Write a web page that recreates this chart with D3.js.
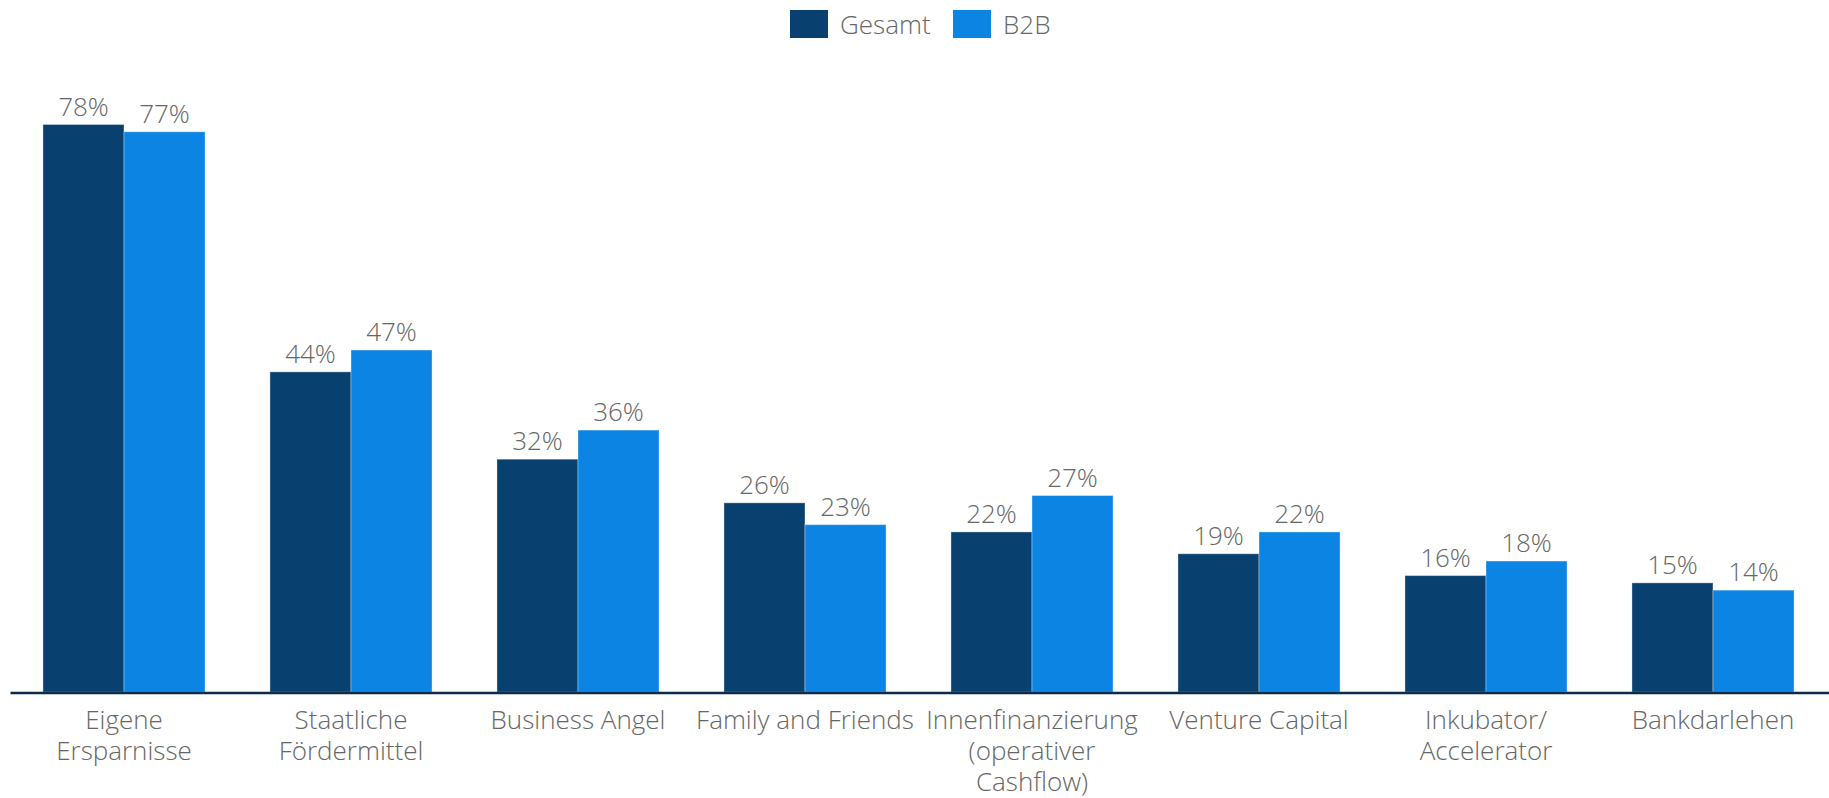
<!DOCTYPE html>
<html>
<head>
<meta charset="utf-8">
<script src="https://cdn.jsdelivr.net/npm/d3@7"></script>
<style>
  html, body { margin: 0; padding: 0; background: #fff; }
  svg { display: block; font-family: "Open Sans", sans-serif; }
</style>
</head>
<body>
<svg id="chart" width="1829" height="798"></svg>
<script>
// Financing sources of start-ups, share of respondents
const categories = [
  "Eigene Ersparnisse",
  "Staatliche Fördermittel",
  "Business Angel",
  "Family and Friends",
  "Innenfinanzierung (operativer Cashflow)",
  "Venture Capital",
  "Inkubator/ Accelerator",
  "Bankdarlehen"
];
const categoryLines = [
  ["Eigene", "Ersparnisse"],
  ["Staatliche", "Fördermittel"],
  ["Business Angel"],
  ["Family and Friends"],
  ["Innenfinanzierung", "(operativer", "Cashflow)"],
  ["Venture Capital"],
  ["Inkubator/", "Accelerator"],
  ["Bankdarlehen"]
];
const seriesNames = ["Gesamt", "B2B"];
const gesamt = [78, 44, 32, 26, 22, 19, 16, 15];
const b2b = [77, 47, 36, 23, 27, 22, 18, 14];
const colors = ["#08406f", "#0b84e4"];

const svg = d3.select("#chart");
const baseline = 692;

const x = d3.scaleBand()
  .domain(categories)
  .range([10.5, 1826.5])
  .paddingInner(0.286)
  .paddingOuter(0.143);

const xs = d3.scaleBand()
  .domain(seriesNames)
  .range([0, x.bandwidth()]);

const y = d3.scaleLinear()
  .domain([0, 78])
  .range([baseline, 124.5]);

const rows = categories.map((c, i) => ({ cat: c, values: [gesamt[i], b2b[i]] }));

const groups = svg.append("g")
  .selectAll("g")
  .data(rows)
  .join("g")
  .attr("transform", d => `translate(${x(d.cat)},0)`);

const bars = groups.selectAll("g.bar")
  .data(d => d.values.map((v, k) => ({ key: seriesNames[k], v, k })))
  .join("g")
  .attr("class", "bar");

bars.append("rect")
  .attr("x", d => xs(d.key))
  .attr("width", xs.bandwidth())
  .attr("y", d => y(d.v))
  .attr("height", d => baseline - y(d.v))
  .attr("fill", d => colors[d.k])
  .attr("stroke", "#ffffff")
  .attr("stroke-opacity", 0.35)
  .attr("stroke-width", 1);

bars.append("text")
  .attr("x", d => xs(d.key) + xs.bandwidth() / 2)
  .attr("y", d => y(d.v) - 9)
  .attr("text-anchor", "middle")
  .attr("font-size", 26)
  .attr("font-weight", 300)
  .attr("fill", "#666666")
  .text(d => d.v + "%");

// category axis
const axis = svg.append("g")
  .attr("transform", `translate(0,${baseline + 1})`)
  .call(d3.axisBottom(x).tickSize(0).tickSizeOuter(0));

axis.select(".domain")
  .attr("d", "M10.5,0H1829")
  .attr("stroke", "#0c2b4b")
  .attr("stroke-width", 2.5);

axis.selectAll(".tick text").each(function(d) {
  const i = categories.indexOf(d);
  const t = d3.select(this)
    .text(null)
    .attr("y", 0)
    .attr("dy", null)
    .attr("font-size", 26)
    .attr("font-weight", 300)
    .attr("font-family", "Open Sans, sans-serif")
    .attr("fill", "#666666");
  categoryLines[i].forEach((line, j) => {
    t.append("tspan")
      .attr("x", 0)
      .attr("y", 36 + j * 31)
      .text(line);
  });
});

// legend
const legend = svg.append("g");
const legendX = [790, 953];
seriesNames.forEach((name, k) => {
  legend.append("rect")
    .attr("x", legendX[k])
    .attr("y", 10)
    .attr("width", 38)
    .attr("height", 28)
    .attr("fill", colors[k]);
  legend.append("text")
    .attr("x", legendX[k] + 50)
    .attr("y", 34)
    .attr("font-size", 26)
    .attr("font-weight", 300)
    .attr("fill", "#666666")
    .text(name);
});
</script>
</body>
</html>
